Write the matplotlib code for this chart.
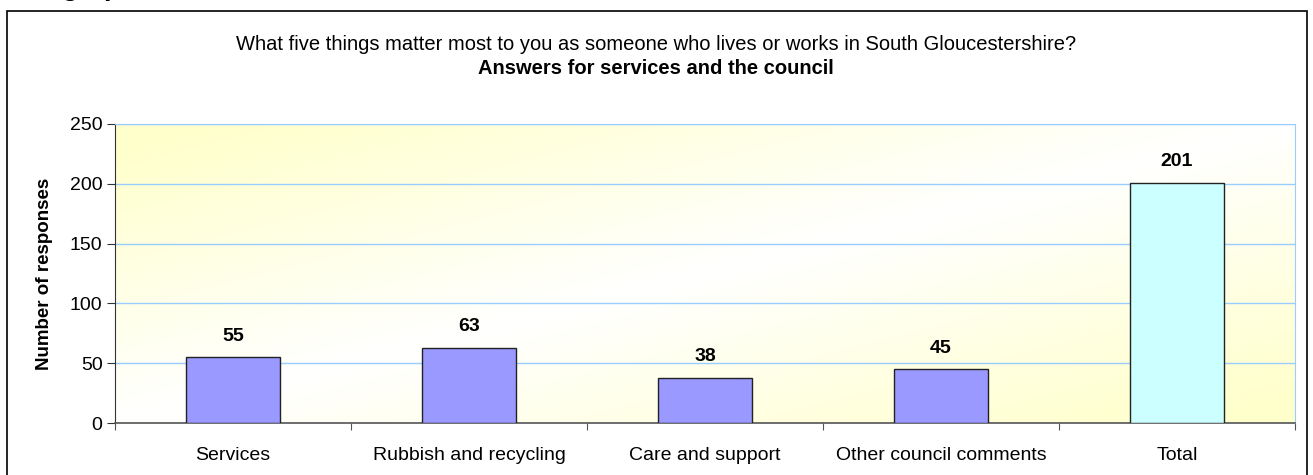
import matplotlib
matplotlib.use("Agg")
import matplotlib.pyplot as plt
import numpy as np
from matplotlib.patches import Rectangle

categories = ["Services", "Rubbish and recycling", "Care and support", "Other council comments", "Total"]
values = [55, 63, 38, 45, 201]
bar_colors = ["#9999FF", "#9999FF", "#9999FF", "#9999FF", "#CCFFFF"]
yticks = [0, 50, 100, 150, 200, 250]

plt.rcParams['font.family'] = ['Liberation Sans', 'DejaVu Sans']

W, H = 1313, 475
fig = plt.figure(figsize=(W / 100, H / 100), dpi=100)

# clipped heading text above the chart (only descenders visible, as in the reference)
fig.text(62 / W, 1 - 1 / H, "graph", ha="left", va="bottom",
         fontsize=20, fontweight="bold")

# outer chart border
fig.patches.append(Rectangle((7 / W, -0.05), (1307 - 7) / W, 1.05 - 11 / H,
                             transform=fig.transFigure, fill=False,
                             edgecolor="black", linewidth=1.2))

left, right, top, bottom = 115, 1295, 124, 423
ax = fig.add_axes([left / W, 1 - bottom / H, (right - left) / W, (bottom - top) / H])

# diagonal gradient background: white along bottom-left -> top-right diagonal,
# pale yellow toward top-left and bottom-right corners
nx, ny = 300, 150
uu, vv = np.meshgrid(np.linspace(0, 1, nx), np.linspace(0, 1, ny))
t = np.clip(np.abs(uu - vv) * 1.1, 0, 1)
c_white = np.array([1.0, 1.0, 1.0])
c_yel = np.array([1.0, 1.0, 0.80])
img = c_white[None, None, :] * (1 - t[..., None]) + c_yel[None, None, :] * t[..., None]
ax.imshow(img, extent=[0, 1, 0, 1], transform=ax.transAxes, origin="lower",
          aspect="auto", zorder=0)

x = np.arange(len(categories))
ax.set_xlim(-0.5, len(categories) - 0.5)
ax.set_ylim(0, 250)
ax.set_yticks(yticks)
ax.yaxis.grid(True, color="#99CCFF", linewidth=1.0, zorder=1)
ax.set_axisbelow(True)

bars = ax.bar(x, values, width=0.4, color=bar_colors, edgecolor="#222222",
              linewidth=1.0, zorder=3)
for xi, v in zip(x, values):
    ax.annotate(str(v), (xi, v), xytext=(0, 9), textcoords="offset points",
                ha="center", va="bottom", fontsize=14, fontweight="bold", zorder=4)

ax.set_xticks(np.arange(len(categories) + 1) - 0.5)
ax.set_xticklabels([])
ax.set_xticks(x, minor=True)
ax.set_xticklabels(categories, minor=True, fontsize=14)
ax.tick_params(axis="x", which="minor", length=0, pad=17)
ax.tick_params(axis="x", which="major", length=5, color="#555555", direction="out")
ax.tick_params(axis="y", length=6, color="#333333", labelsize=14, pad=3)

for s in ["top", "right"]:
    ax.spines[s].set_color("#99CCFF")
ax.spines["left"].set_color("#333333")
ax.spines["bottom"].set_color("#555555")
ax.spines["bottom"].set_linewidth(1.2)

ax.set_ylabel("Number of responses", fontsize=13.5, fontweight="bold", labelpad=12)

fig.text(656 / W, 1 - 44 / H, "What five things matter most to you as someone who lives or works in South Gloucestershire?",
         ha="center", va="center", fontsize=14.5)
fig.text(656 / W, 1 - 68 / H, "Answers for services and the council",
         ha="center", va="center", fontsize=14.5, fontweight="bold")

fig.savefig("out.png", dpi=100)
